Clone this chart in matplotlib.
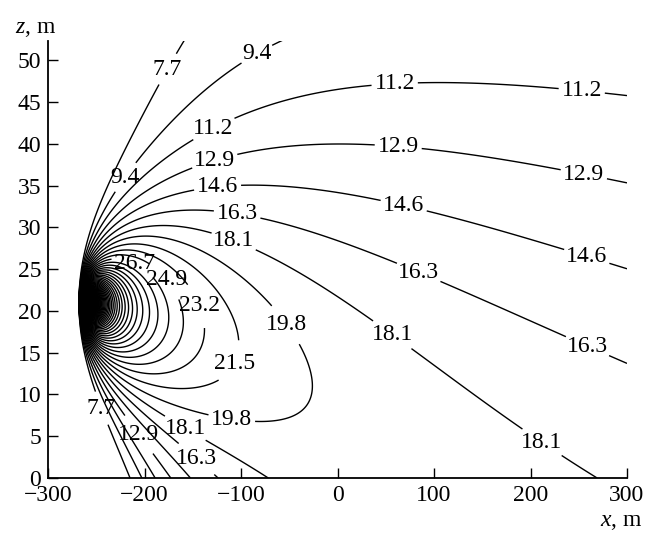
import numpy as np
import matplotlib.pyplot as plt

plt.rcParams['font.family'] = 'Liberation Serif'
plt.rcParams['mathtext.fontset'] = 'custom'
plt.rcParams['mathtext.it'] = 'Liberation Serif:italic'
plt.rcParams['mathtext.rm'] = 'Liberation Serif'

# contour levels: 7.7, 9.4, 11.2, ... same step right into the source
first_level = 7.72
level_step = 1.7225
n_levels = 250
n_labelled = 12

# labels as printed on the chart: value and where it sits (x, z)
label_values = [7.7, 9.4, 9.4, 11.2, 12.9, 14.6, 16.3, 18.1, 26.7, 24.9, 23.2,
                19.8, 21.5, 19.8, 7.7, 12.9, 18.1, 16.3, 11.2, 11.2, 12.9,
                12.9, 14.6, 14.6, 16.3, 16.3, 18.1, 18.1]
label_x = [-177, -80, -227, -130, -130, -125, -103, -106, -213, -181, -143,
           -54, -106, -108, -264, -200, -153, -134, 59.5, 254, 62.6,
           256, 68, 258, 83, 258, 54, 215]
label_z = [49, 50, 36.6, 42.2, 39, 35.6, 32.3, 28.8, 25.1, 23.4, 20.7,
           18.3, 13.7, 8.4, 7.5, 5.7, 6.9, 3.9, 46.6, 47.4, 39.2,
           36.8, 32.3, 26.4, 24.3, 15.5, 16.7, 4.8]

# field model fitted to the contours of the picture
wall_x = -268.0      # wall with the source on it, m
source_z = 21.0      # height of the source, m
x_stretch = 5.5      # metres of x per metre of z
decay = 0.06
tilt = 0.3           # plume sinks to the right
rise_len = 150.0     # distance over which the field recovers from the wall, m
base = -0.639
base_slope = 0.0975
rise = 12.74
rise_slope = -0.1709
strength = 9.73

def k1(s):
    # rough stand-in for the modified Bessel function K1
    return np.exp(-s) * (np.sqrt(np.pi / (2 * s)) + 1 / s)

x = np.linspace(-300, 300, 1201)
z = np.linspace(0, 52.5, 421)
X, Z = np.meshgrid(x, z)

u = (X - wall_x) / x_stretch
v = Z - source_z
r = np.maximum(np.hypot(u, v), 1e-3)
plume = np.exp(decay * (u * np.cos(tilt) - v * np.sin(tilt))) * k1(decay * r) * u / r
recover = 1 - np.exp(-np.maximum(X - wall_x, 0) / rise_len)
field = base + base_slope * Z + (rise + rise_slope * Z) * recover + strength * plume

levels = first_level + level_step * np.arange(n_levels)

fig = plt.figure(figsize=(6.49, 5.36), dpi=100)
ax = fig.add_axes([0.074, 0.1082, 0.8921, 0.8153])
# unlabelled levels in one go
ax.contour(X, Z, field, levels=levels[n_labelled:], colors='black', linewidths=1.0)

# labelled levels one by one, so each label lands on its own line
label_values = np.array(label_values)
for lev in levels[:n_labelled]:
    pick = np.abs(label_values - lev) < 0.06
    cs = ax.contour(X, Z, field, levels=[lev], colors='black', linewidths=1.0)
    spots = [(lx, lz) for lx, lz, k in zip(label_x, label_z, pick) if k]
    if spots:
        texts = ax.clabel(cs, fmt='%.1f', fontsize=17, manual=spots,
                          inline_spacing=3)
        for t in texts:
            t.set_rotation(0)

ax.set_xlim(-300, 300)
ax.set_ylim(0, 52.3)
ax.set_xticks([-300, -200, -100, 0, 100, 200, 300])
ax.set_yticks([0, 5, 10, 15, 20, 25, 30, 35, 40, 45, 50])
ax.spines['top'].set_visible(False)
ax.spines['right'].set_visible(False)
for s in ('left', 'bottom'):
    ax.spines[s].set_linewidth(1.3)
ax.tick_params(direction='in', length=7, width=1, labelsize=17, pad=5)

fig.text(0.023, 0.938, r'$z$, m', fontsize=17)
fig.text(0.99, 0.018, r'$x$, m', fontsize=17, ha='right')

fig.savefig('out.png', dpi=100)
